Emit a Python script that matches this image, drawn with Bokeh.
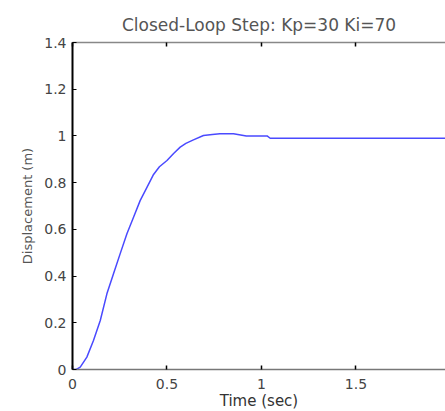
from bokeh.plotting import figure
from bokeh.models import Range1d, LinearAxis, FixedTicker
from bokeh.embed import file_html
from bokeh.resources import INLINE

# Data
time_s = [0.0, 0.02, 0.041, 0.076, 0.111, 0.147, 0.182, 0.217, 0.252, 0.288,
          0.323, 0.358, 0.394, 0.429, 0.46, 0.5, 0.535, 0.57, 0.60, 0.64,
          0.693, 0.74, 0.78, 0.852, 0.92, 0.98, 1.03, 1.046, 1.2, 1.5, 1.8, 1.974]
displacement = [0.0, 0.0, 0.01, 0.053, 0.124, 0.21, 0.324, 0.41, 0.495, 0.581,
                0.652, 0.723, 0.78, 0.835, 0.868, 0.895, 0.925, 0.952, 0.968, 0.983,
                1.002, 1.006, 1.009, 1.009, 1.0, 1.0, 1.0, 0.99, 0.99, 0.99, 0.99, 0.99]

x_ticks = [0, 0.5, 1, 1.5]
y_ticks = [0, 0.2, 0.4, 0.6, 0.8, 1.0, 1.2, 1.4]
title_text = "Closed-Loop Step: Kp=30 Ki=70"
x_label = "Time (sec)"
y_label = "Displacement (m)"

FONT = "DejaVu Sans"

p = figure(
    frame_width=373, frame_height=327,
    x_range=Range1d(0, 1.974), y_range=Range1d(0, 1.4),
    output_backend="svg", toolbar_location=None,
    min_border_left=72, min_border_right=0, min_border_top=42, min_border_bottom=0,
    x_axis_location=None, y_axis_location=None,
    background_fill_color="white", border_fill_color="white",
)
p.outline_line_color = None
p.grid.visible = False

p.title.text = title_text
p.title.align = "center"
p.title.text_font = FONT
p.title.text_font_size = "17px"
p.title.text_font_style = "normal"
p.title.text_color = "#555555"
p.title.standoff = 16

# Left axis
ya = LinearAxis(ticker=FixedTicker(ticks=y_ticks), axis_label=y_label)
ya.major_label_overrides = {1.0: "1", 0: "0"}
ya.axis_line_color = "black"
ya.axis_line_width = 2
ya.major_tick_in = 4
ya.major_tick_out = 0
ya.major_tick_line_color = "black"
ya.minor_tick_line_color = None
ya.major_label_standoff = 6
ya.major_label_text_font = FONT
ya.major_label_text_font_size = "14px"
ya.major_label_text_color = "#444444"
ya.axis_label_text_font = FONT
ya.axis_label_text_font_size = "13px"
ya.axis_label_text_font_style = "normal"
ya.axis_label_text_color = "#555555"
ya.axis_label_standoff = 6
p.add_layout(ya, "left")

# Bottom axis
xa = LinearAxis(ticker=FixedTicker(ticks=x_ticks), axis_label=x_label)
xa.major_label_overrides = {0: "0", 1: "1"}
xa.axis_line_color = "#777777"
xa.axis_line_width = 1.5
xa.major_tick_in = 4
xa.major_tick_out = 0
xa.major_tick_line_color = "black"
xa.major_tick_line_width = 1.5
xa.minor_tick_line_color = None
xa.major_label_standoff = 9
xa.major_label_text_font = FONT
xa.major_label_text_font_size = "14px"
xa.major_label_text_color = "#444444"
xa.axis_label_text_font = FONT
xa.axis_label_text_font_size = "15px"
xa.axis_label_text_font_style = "normal"
xa.axis_label_text_color = "#333333"
xa.axis_label_standoff = 0
p.add_layout(xa, "below")

# Top axis (box line with inward ticks, no labels)
ta = LinearAxis(ticker=FixedTicker(ticks=x_ticks))
ta.major_label_overrides = {0: "", 0.5: "", 1: "", 1.5: ""}
ta.major_label_standoff = 0
ta.axis_line_color = "#888888"
ta.axis_line_width = 1.5
ta.major_tick_in = 4
ta.major_tick_out = 0
ta.major_tick_line_color = "black"
ta.major_tick_line_width = 1.5
ta.minor_tick_line_color = None
p.add_layout(ta, "above")

p.line(time_s, displacement, line_color="#4a4aff", line_width=1.5)

open("out.html", "w").write(file_html(p, INLINE))
